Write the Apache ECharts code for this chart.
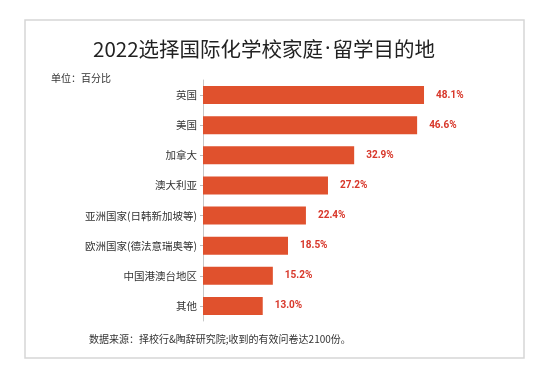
<!DOCTYPE html>
<html><head><meta charset="utf-8">
<script src="https://cdn.jsdelivr.net/npm/echarts@6/dist/echarts.min.js"></script>
<style>html,body{margin:0;padding:0;background:#fff}#c{width:554px;height:379px}</style>
</head><body><div id="c"></div>
<script>
const categories = ['英国','美国','加拿大','澳大利亚','亚洲国家(日韩新加坡等)','欧洲国家(德法意瑞奥等)','中国港澳台地区','其他'];
const values = [48.1, 46.6, 32.9, 27.2, 22.4, 18.5, 15.2, 13.0];
const titleLeft = '2022选择国际化学校家庭';
const titleDot = '·';
const titleRight = '留学目的地';
const unitText = '单位：百分比';
const sourceText = '数据来源：择校行&陶辞研究院;收到的有效问卷达2100份。';

const CJK = '"Noto Sans CJK SC","Noto Sans",sans-serif';
const chart = echarts.init(document.getElementById('c'), null, {renderer:'canvas'});
chart.setOption({
  animation: false,
  backgroundColor: '#fff',
  graphic: [
    {type:'rect', shape:{x:25, y:20, width:499, height:338}, style:{fill:'#fff', stroke:'#d6d6d6', lineWidth:1.5}, z:-10},
    {type:'text', x:264, y:49, style:{
      text:'{a|'+titleLeft+'}{b|'+titleDot+'}{a|'+titleRight+'}',
      rich:{a:{fontSize:20.5, fontFamily:CJK, fill:'#222'}, b:{fontSize:20.5, fontFamily:'"Noto Sans",sans-serif', fill:'#222', padding:[0,2,0,2]}},
      align:'center', verticalAlign:'middle'}},
    {type:'text', x:51, y:78, style:{text:unitText, fontSize:10, fontFamily:CJK, fill:'#333', align:'left', verticalAlign:'middle'}},
    {type:'text', x:89, y:339, style:{text:sourceText, fontSize:10, fontFamily:CJK, fill:'#333', align:'left', verticalAlign:'middle'}}
  ],
  grid: {left:203, top:80, width:4.595*60, height:241, containLabel:false},
  xAxis: {type:'value', min:0, max:60, show:false},
  yAxis: {
    type:'category', data:categories, inverse:true,
    axisLine:{show:true, lineStyle:{color:'#c8c8c8', width:1}},
    axisTick:{show:true, alignWithLabel:true, length:3, lineStyle:{color:'#bbb'}},
    axisLabel:{color:'#333', fontSize:10.5, fontFamily:CJK, margin:6}
  },
  series: [{
    type:'bar', data:values, barWidth:18,
    itemStyle:{color:'#e0512d'},
    label:{show:true, position:'right', distance:12, formatter:p=>p.value.toFixed(1)+'%', color:'#d8372a', fontSize:10, fontWeight:'bold', fontFamily:'Roboto,sans-serif'}
  }]
});
</script></body></html>
